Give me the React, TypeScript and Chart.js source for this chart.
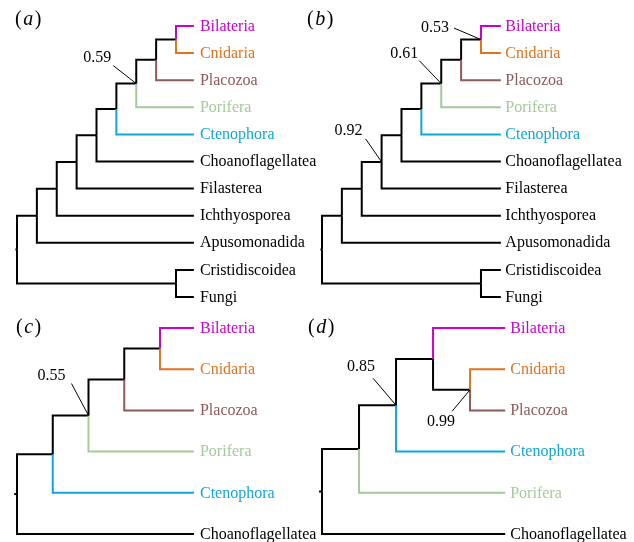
import React, { useEffect, useRef } from "react";
import { Chart, registerables } from "chart.js";

Chart.register(...registerables);

// Tree encoding: a leaf is the index of a taxon; an internal node is
// [depth, childA, childB, supportLabel?]
type Tree = number | [number, Tree, Tree, string?];

// ---------- Panels (a) and (b) ----------
const taxaAB = [
  "Bilateria",
  "Cnidaria",
  "Placozoa",
  "Porifera",
  "Ctenophora",
  "Choanoflagellatea",
  "Filasterea",
  "Ichthyosporea",
  "Apusomonadida",
  "Cristidiscoidea",
  "Fungi",
];

const treeA: Tree = [0,
  [1,
    [2,
      [3,
        [4,
          [5,
            [6, [7, [8, 0, 1], 2], 3, "0.59"],
            4],
          5],
        6],
      7],
    8],
  [8, 9, 10]];

const treeB: Tree = [0,
  [1,
    [2,
      [3,
        [4,
          [5,
            [6, [7, [8, 0, 1, "0.53"], 2], 3, "0.61"],
            4],
          5],
        6, "0.92"],
      7],
    8],
  [8, 9, 10]];

const tipDepthA = 8.9;
const tipDepthB = 9.0;

// ---------- Panels (c) and (d) ----------
const taxaC = ["Bilateria", "Cnidaria", "Placozoa", "Porifera", "Ctenophora", "Choanoflagellatea"];
const treeC: Tree = [0, [1, [2, [3, [4, 0, 1], 2], 3, "0.55"], 4], 5];
const tipDepthC = 4.95;

const taxaD = ["Bilateria", "Cnidaria", "Placozoa", "Ctenophora", "Porifera", "Choanoflagellatea"];
const treeD: Tree = [0, [1, [2, [3, 0, [4, 1, 2, "0.99"]], 3, "0.85"], 4], 5];
const tipDepthD = 4.95;

// ---------- Styles ----------
const taxonColors: Record<string, string> = {
  Bilateria: "#CC00CC",
  Cnidaria: "#E2721E",
  Placozoa: "#8C5A5A",
  Porifera: "#A6C99A",
  Ctenophora: "#10A6DD",
};
const BLACK = "#000000";
const FONT = "'Liberation Serif', 'Times New Roman', serif";

interface PanelSpec {
  letter: string;
  taxa: string[];
  tree: Tree;
  tipDepth: number;
  left: number;
  top: number;
  width: number;
  height: number;
  xMin: number;
  xMax: number;
  yMin: number;
  yMax: number;
  labelGap: number;
  letterPos: [number, number];
  // support label -> [textDx, textDy, lineDx, lineDy] in pixels relative to node
  supportOffsets: Record<string, [number, number, number, number]>;
}

const panels: PanelSpec[] = [
  {
    letter: "a", taxa: taxaAB, tree: treeA, tipDepth: tipDepthA,
    left: 0, top: 0, width: 320, height: 320,
    xMin: -0.855, xMax: 15.245, yMin: -0.959, yMax: 10.849,
    labelGap: 6, letterPos: [15, 20],
    supportOffsets: { "0.59": [-39, -25.5, -23, -18] },
  },
  {
    letter: "b", taxa: taxaAB, tree: treeB, tipDepth: tipDepthB,
    left: 300, top: 0, width: 334, height: 320,
    xMin: -1.107, xMax: 15.7, yMin: -0.959, yMax: 10.849,
    labelGap: 4.5, letterPos: [7, 20],
    supportOffsets: {
      "0.53": [-46, -11.5, -27, -11.5],
      "0.61": [-37, -30, -22, -23],
      "0.92": [-33, -31, -16, -23],
    },
  },
  {
    letter: "c", taxa: taxaC, tree: treeC, tipDepth: tipDepthC,
    left: 0, top: 305, width: 320, height: 237,
    xMin: -0.476, xMax: 8.476, yMin: -0.558, yMax: 5.194,
    labelGap: 6, letterPos: [16, 23],
    supportOffsets: { "0.55": [-37, -40, -17, -32] },
  },
  {
    letter: "d", taxa: taxaD, tree: treeD, tipDepth: tipDepthD,
    left: 300, top: 305, width: 334, height: 237,
    xMin: -0.595, xMax: 8.43, yMin: -0.558, yMax: 5.194,
    labelGap: 5, letterPos: [8, 23],
    supportOffsets: {
      "0.85": [-35, -38, -23, -27],
      "0.99": [-29, 32.5, -18, 21.5],
    },
  },
];

interface Seg { pts: { x: number; y: number }[]; color: string }
interface Support { x: number; y: number; label: string }

function layoutTree(tree: Tree, tipDepth: number, taxa: string[]) {
  const segs: Seg[] = [];
  const supports: Support[] = [];
  const walk = (t: Tree): { x: number; y: number } => {
    if (typeof t === "number") return { x: tipDepth, y: t };
    const [d, a, b, s] = t;
    const ca = walk(a);
    const cb = walk(b);
    const y = (ca.y + cb.y) / 2;
    const pairs: [{ x: number; y: number }, Tree][] = [[ca, a], [cb, b]];
    for (const [c, child] of pairs) {
      const color = typeof child === "number" ? taxonColors[taxa[child]] || BLACK : BLACK;
      segs.push({ pts: [{ x: d, y }, { x: d, y: c.y }, { x: c.x, y: c.y }], color });
    }
    if (s) supports.push({ x: d, y, label: s });
    return { x: d, y };
  };
  const root = walk(tree);
  return { segs, supports, root };
}

function TreePanel({ spec }: { spec: PanelSpec }) {
  const ref = useRef<HTMLCanvasElement>(null);
  useEffect(() => {
    const { segs, supports, root } = layoutTree(spec.tree, spec.tipDepth, spec.taxa);
    const datasets: any[] = segs.map((s) => ({
      data: s.pts,
      borderColor: s.color,
      backgroundColor: s.color,
      borderWidth: 2,
      showLine: true,
      pointRadius: 0,
      pointHoverRadius: 0,
      borderJoinStyle: "miter",
      borderCapStyle: "butt",
      tension: 0,
      fill: false,
    }));
    // small root stub
    datasets.push({
      data: [{ x: root.x - 0.08, y: root.y }, { x: root.x, y: root.y }],
      borderColor: BLACK,
      borderWidth: 2,
      showLine: true,
      pointRadius: 0,
      borderCapStyle: "butt",
      fill: false,
    });

    const textPlugin = {
      id: "treeText",
      afterDatasetsDraw(chart: any) {
        const { ctx, scales } = chart;
        const xs = scales.x;
        const ys = scales.y;
        ctx.save();
        // tip labels
        ctx.font = `16px ${FONT}`;
        ctx.textBaseline = "middle";
        ctx.textAlign = "left";
        spec.taxa.forEach((name, i) => {
          ctx.fillStyle = taxonColors[name] || BLACK;
          ctx.fillText(name, xs.getPixelForValue(spec.tipDepth) + spec.labelGap, ys.getPixelForValue(i) + 0.5);
        });
        // support labels
        supports.forEach((s) => {
          const nx = xs.getPixelForValue(s.x);
          const ny = ys.getPixelForValue(s.y);
          const off = spec.supportOffsets[s.label] || [-30, -25, -18, -18];
          ctx.fillStyle = BLACK;
          ctx.textAlign = "center";
          ctx.fillText(s.label, nx + off[0], ny + off[1]);
          ctx.strokeStyle = BLACK;
          ctx.lineWidth = 1;
          ctx.beginPath();
          ctx.moveTo(nx + off[2], ny + off[3]);
          ctx.lineTo(nx, ny);
          ctx.stroke();
        });
        // panel letter "(x)" with italic letter
        const [lx, ly] = spec.letterPos;
        ctx.textAlign = "left";
        ctx.fillStyle = BLACK;
        ctx.font = `20px ${FONT}`;
        let cx = lx;
        ctx.fillText("(", cx, ly);
        cx += ctx.measureText("(").width + 1.5;
        ctx.font = `italic 20px ${FONT}`;
        ctx.fillText(spec.letter, cx, ly);
        cx += ctx.measureText(spec.letter).width + 1.5;
        ctx.font = `20px ${FONT}`;
        ctx.fillText(")", cx, ly);
        ctx.restore();
      },
    };

    const chart = new Chart(ref.current as HTMLCanvasElement, {
      type: "scatter",
      data: { datasets },
      options: {
        responsive: false,
        maintainAspectRatio: false,
        animation: false,
        devicePixelRatio: 1,
        layout: { padding: 0 },
        events: [],
        plugins: {
          legend: { display: false },
          tooltip: { enabled: false },
        },
        scales: {
          x: { type: "linear", display: false, min: spec.xMin, max: spec.xMax },
          y: { type: "linear", display: false, min: spec.yMin, max: spec.yMax, reverse: true },
        },
      },
      plugins: [textPlugin],
    } as any);
    return () => chart.destroy();
  }, [spec]);
  return (
    <canvas
      ref={ref}
      width={spec.width}
      height={spec.height}
      style={{ position: "absolute", left: spec.left, top: spec.top, width: spec.width, height: spec.height, display: "block" }}
    />
  );
}

export default function App() {
  return (
    <div style={{ position: "absolute", left: 0, top: 0, width: 634, height: 542, background: "#ffffff" }}>
      {panels.map((p) => (
        <TreePanel key={p.letter} spec={p} />
      ))}
    </div>
  );
}
